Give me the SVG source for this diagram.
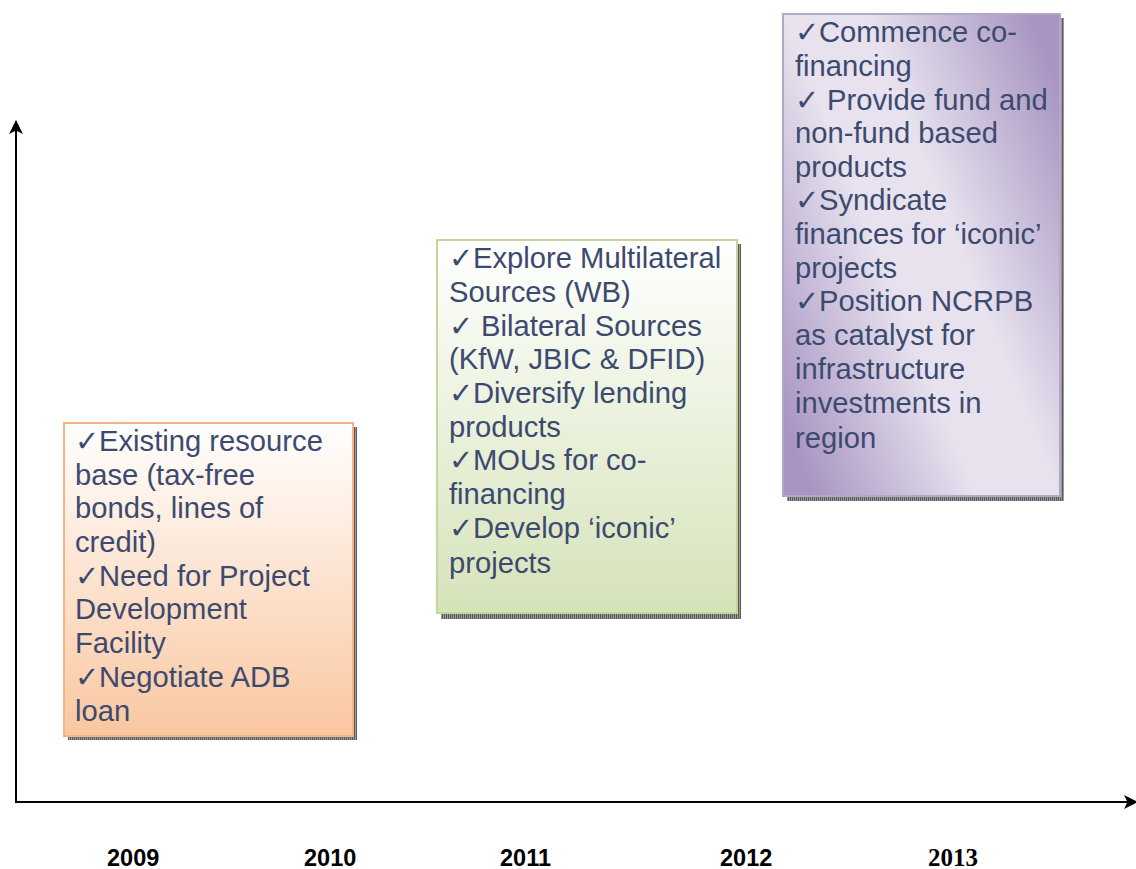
<svg xmlns="http://www.w3.org/2000/svg" width="1136" height="869" viewBox="0 0 1136 869">
  <style>
    .item { font-family: "Liberation Sans", Arial, sans-serif; font-size: 29.2px; fill: #3d4a6f; }
    .year { font-family: "Liberation Sans", Arial, sans-serif; font-size: 23.5px; font-weight: bold; fill: #000; }
    .year-serif { font-family: "Liberation Serif", "Times New Roman", serif; font-size: 25px; font-weight: bold; fill: #000; }
    .axis { stroke: #000; stroke-width: 2; fill: none; }
  </style>
  <defs>
    <marker id="arrow" viewBox="0 0 14 14" refX="13" refY="7" markerWidth="14" markerHeight="14" markerUnits="userSpaceOnUse" orient="auto">
      <path d="M0,0 L14,7 L0,14 L3.5,7 Z" fill="#000"/>
    </marker>
    <pattern id="hatch" width="2" height="2" patternUnits="userSpaceOnUse">
      <rect width="2" height="2" fill="#9a9a9a"/>
      <rect width="1" height="2" fill="#5a5a5a"/>
    </pattern>
    <linearGradient id="gOrange" x1="0" y1="0" x2="0" y2="1">
      <stop offset="0" stop-color="#ffffff"/>
      <stop offset="1" stop-color="#fac7a0"/>
    </linearGradient>
    <linearGradient id="gGreen" x1="0" y1="0" x2="0" y2="1">
      <stop offset="0" stop-color="#ffffff"/>
      <stop offset="1" stop-color="#d5e3b9"/>
    </linearGradient>
    <linearGradient id="gPurple" x1="1" y1="0.15" x2="0" y2="0.85">
      <stop offset="0" stop-color="#a895c2"/>
      <stop offset="0.4" stop-color="#e7e2ee"/>
      <stop offset="0.6" stop-color="#e7e2ee"/>
      <stop offset="1" stop-color="#a895c2"/>
    </linearGradient>
  </defs>

  <!-- axes -->
  <g id="connectors">
    <line class="axis" x1="16" y1="803" x2="16" y2="121" marker-end="url(#arrow)"/>
    <line class="axis" x1="15" y1="802" x2="1137" y2="802" marker-end="url(#arrow)"/>
  </g>

  <!-- 2009 box -->
  <g id="box-2009">
    <rect x="68" y="427" width="289" height="313" fill="url(#hatch)"/>
    <rect x="64" y="423" width="289" height="313" fill="url(#gOrange)" stroke="#f5b283" stroke-width="2"/>
    <text class="item">
      <tspan x="75" y="451">✓Existing resource</tspan>
      <tspan x="75" y="485">base (tax-free</tspan>
      <tspan x="75" y="518">bonds, lines of</tspan>
      <tspan x="75" y="552">credit)</tspan>
      <tspan x="75" y="586">✓Need for Project</tspan>
      <tspan x="75" y="619">Development</tspan>
      <tspan x="75" y="653">Facility</tspan>
      <tspan x="75" y="687">✓Negotiate ADB</tspan>
      <tspan x="75" y="721">loan</tspan>
    </text>
  </g>

  <!-- 2011 box -->
  <g id="box-2011">
    <rect x="441" y="244" width="300" height="375" fill="url(#hatch)"/>
    <rect x="437" y="240" width="300" height="373" fill="url(#gGreen)" stroke="#c3d69b" stroke-width="2"/>
    <text class="item">
      <tspan x="449" y="268">✓Explore Multilateral</tspan>
      <tspan x="449" y="302">Sources (WB)</tspan>
      <tspan x="449" y="336">✓ Bilateral Sources</tspan>
      <tspan x="449" y="369">(KfW, JBIC &amp; DFID)</tspan>
      <tspan x="449" y="403">✓Diversify lending</tspan>
      <tspan x="449" y="437">products</tspan>
      <tspan x="449" y="470">✓MOUs for co-</tspan>
      <tspan x="449" y="504">financing</tspan>
      <tspan x="449" y="538">✓Develop ‘iconic’</tspan>
      <tspan x="449" y="573">projects</tspan>
    </text>
  </g>

  <!-- 2013 box -->
  <g id="box-2013">
    <rect x="787" y="18" width="277" height="483" fill="url(#hatch)"/>
    <rect x="783" y="14" width="277" height="482" fill="url(#gPurple)" stroke="#b5a6cb" stroke-width="2"/>
    <text class="item">
      <tspan x="795" y="42">✓Commence co-</tspan>
      <tspan x="795" y="76">financing</tspan>
      <tspan x="795" y="110">✓ Provide fund and</tspan>
      <tspan x="795" y="143">non-fund based</tspan>
      <tspan x="795" y="177">products</tspan>
      <tspan x="795" y="210">✓Syndicate</tspan>
      <tspan x="795" y="244">finances for ‘iconic’</tspan>
      <tspan x="795" y="278">projects</tspan>
      <tspan x="795" y="311">✓Position NCRPB</tspan>
      <tspan x="795" y="345">as catalyst for</tspan>
      <tspan x="795" y="379">infrastructure</tspan>
      <tspan x="795" y="413">investments in</tspan>
      <tspan x="795" y="448">region</tspan>
    </text>
  </g>

  <!-- year labels -->
  <g id="years">
    <text class="year" x="107" y="866">2009</text>
    <text class="year" x="304" y="866">2010</text>
    <text class="year" x="500" y="866">2011</text>
    <text class="year" x="720" y="866">2012</text>
    <text class="year-serif" x="928" y="866">2013</text>
  </g>
</svg>
